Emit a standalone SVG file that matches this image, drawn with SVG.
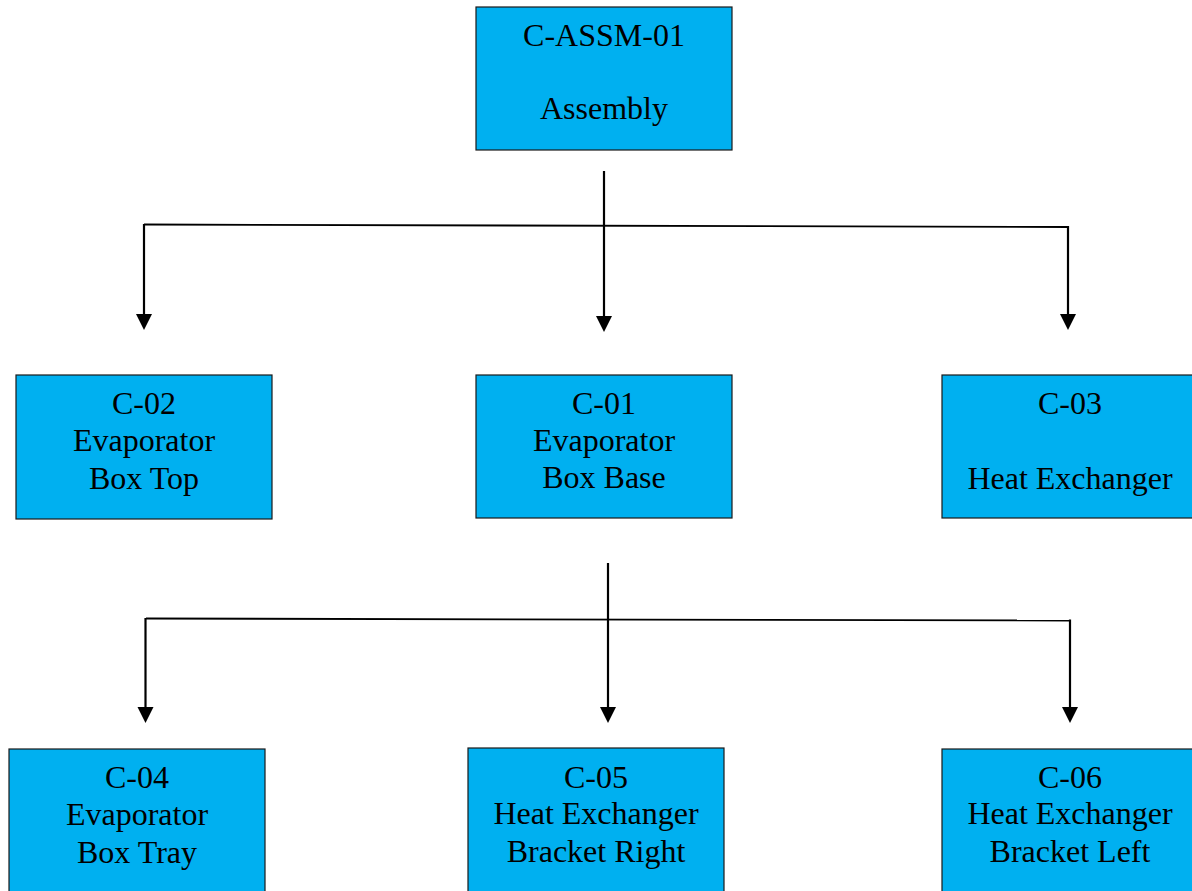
<svg xmlns="http://www.w3.org/2000/svg" width="1192" height="891" viewBox="0 0 1192 891">
  <style>
    .box { fill: #00B0F0; stroke: #1a1a1a; stroke-width: 1.2; }
    .lbl { font-family: "Liberation Serif", "Times New Roman", serif; font-size: 32px; fill: #000; text-anchor: middle; }
    .wire { stroke: #000; stroke-width: 2.2; fill: none; }
    .bus { stroke: #000; stroke-width: 1.8; fill: none; }
  </style>
  <defs>
    <marker id="arrow" markerUnits="userSpaceOnUse" markerWidth="18" markerHeight="18" refX="7" refY="8" orient="auto">
      <path d="M0,0 L16,8 L0,16 Z" fill="#000"/>
    </marker>
  </defs>
  <rect width="1192" height="891" fill="#fff"/>

  <g id="connectors">
    <line class="bus" x1="144" y1="224.5" x2="1068" y2="227"/>
    <line class="wire" x1="604" y1="171" x2="604" y2="323" marker-end="url(#arrow)"/>
    <line class="wire" x1="144" y1="224" x2="144" y2="321" marker-end="url(#arrow)"/>
    <line class="wire" x1="1068" y1="226" x2="1068" y2="321" marker-end="url(#arrow)"/>

    <line class="bus" x1="146" y1="618.5" x2="1070" y2="620.5"/>
    <line class="wire" x1="608" y1="563" x2="608" y2="714" marker-end="url(#arrow)"/>
    <line class="wire" x1="145.5" y1="618" x2="145.5" y2="714" marker-end="url(#arrow)"/>
    <line class="wire" x1="1070" y1="619.5" x2="1070" y2="714" marker-end="url(#arrow)"/>
  </g>

  <g id="node-assm">
    <rect class="box" x="476" y="7" width="256" height="143"/>
    <text class="lbl" x="604" y="46">C-ASSM-01</text>
    <text class="lbl" x="604" y="119">Assembly</text>
  </g>

  <g id="node-c02">
    <rect class="box" x="16" y="375" width="256" height="144"/>
    <text class="lbl" x="144" y="414">C-02</text>
    <text class="lbl" x="144" y="451">Evaporator</text>
    <text class="lbl" x="144" y="489">Box Top</text>
  </g>

  <g id="node-c01">
    <rect class="box" x="476" y="375" width="256" height="143"/>
    <text class="lbl" x="604" y="414">C-01</text>
    <text class="lbl" x="604" y="451">Evaporator</text>
    <text class="lbl" x="604" y="488">Box Base</text>
  </g>

  <g id="node-c03">
    <rect class="box" x="942" y="375" width="256" height="143"/>
    <text class="lbl" x="1070" y="414">C-03</text>
    <text class="lbl" x="1070" y="489">Heat Exchanger</text>
  </g>

  <g id="node-c04">
    <rect class="box" x="9" y="749" width="256" height="150"/>
    <text class="lbl" x="137" y="788">C-04</text>
    <text class="lbl" x="137" y="825">Evaporator</text>
    <text class="lbl" x="137" y="863">Box Tray</text>
  </g>

  <g id="node-c05">
    <rect class="box" x="468" y="748" width="256" height="150"/>
    <text class="lbl" x="596" y="788">C-05</text>
    <text class="lbl" x="596" y="824">Heat Exchanger</text>
    <text class="lbl" x="596" y="862">Bracket Right</text>
  </g>

  <g id="node-c06">
    <rect class="box" x="942" y="749" width="256" height="150"/>
    <text class="lbl" x="1070" y="788">C-06</text>
    <text class="lbl" x="1070" y="824">Heat Exchanger</text>
    <text class="lbl" x="1070" y="862">Bracket Left</text>
  </g>
</svg>
